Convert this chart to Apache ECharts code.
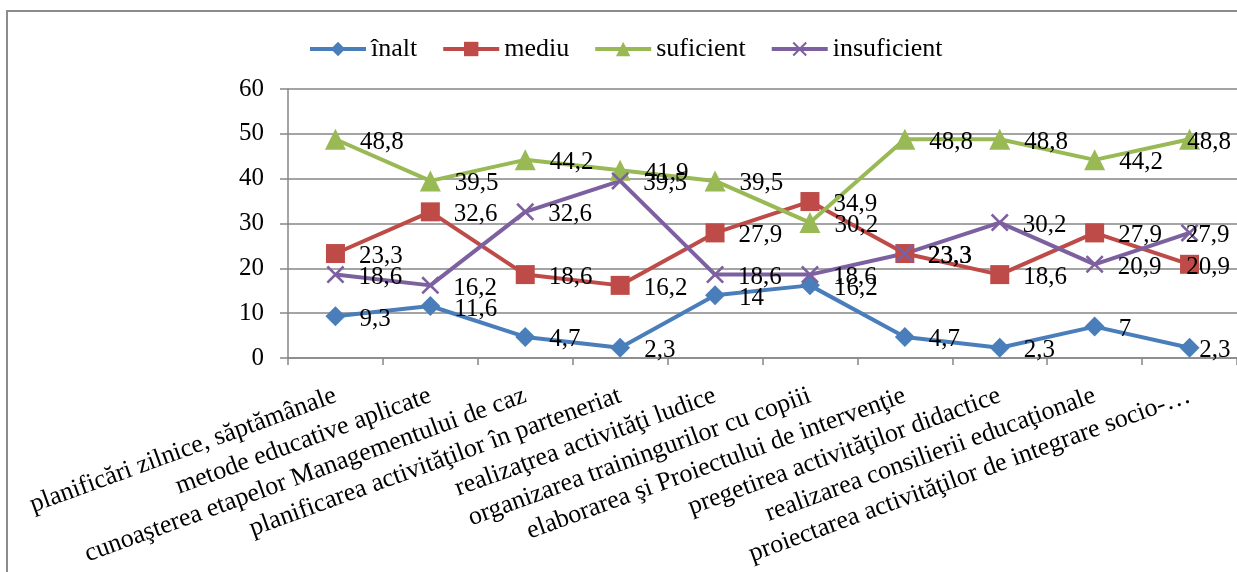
<!DOCTYPE html>
<html>
<head>
<meta charset="utf-8">
<style>
  html, body { margin: 0; padding: 0; background: #fff; }
  #chart { width: 1237px; height: 572px; }
</style>
<script src="https://cdn.jsdelivr.net/npm/echarts@6/dist/echarts.min.js"></script>
</head>
<body>
<div id="chart"></div>
<script>
// Categories of competences evaluated
const categories = [
  'planificări zilnice, săptămânale',
  'metode educative aplicate',
  'cunoaşterea etapelor Managementului de caz',
  'planificarea activităţilor în parteneriat',
  'realizaţrea activităţi ludice',
  'organizarea trainingurilor cu copiii',
  'elaborarea şi Proiectului de intervenţie',
  'pregetirea activităţilor didactice',
  'realizarea consilierii educaţionale',
  'proiectarea activităţilor de integrare socio-…'
];

// Percentages per level
const inalt       = [9.3, 11.6, 4.7, 2.3, 14, 16.2, 4.7, 2.3, 7, 2.3];
const mediu       = [23.3, 32.6, 18.6, 16.2, 27.9, 34.9, 23.3, 18.6, 27.9, 20.9];
const suficient   = [48.8, 39.5, 44.2, 41.9, 39.5, 30.2, 48.8, 48.8, 44.2, 48.8];
const insuficient = [18.6, 16.2, 32.6, 39.5, 18.6, 18.6, 23.3, 30.2, 20.9, 27.9];

const yTicks = [0, 10, 20, 30, 40, 50, 60];

const FONT = '"Liberation Serif", "Times New Roman", serif';
const crossPath = 'path://M0,1L1,0L5,4L9,0L10,1L6,5L10,9L9,10L5,6L1,10L0,9L4,5Z';

function makeSeries(name, values, color, symbol, size) {
  const last = values.length - 1;
  // the last point's label is kept inside the chart: right-aligned at the edge
  const data = values.map((v, i) => i === last
    ? { value: v, label: { align: 'right', offset: [17, 3] } }
    : v);
  return {
    name: name,
    type: 'line',
    data: data,
    symbol: symbol,
    symbolSize: size,
    lineStyle: { color: color, width: 4 },
    itemStyle: { color: color },
    z: 3,
    label: {
      show: true,
      position: 'right',
      distance: 14,
      offset: [0, 3],
      color: '#000',
      fontFamily: FONT,
      fontSize: 25,
      formatter: p => String(p.value).replace('.', ',')
    },
    emphasis: { disabled: true }
  };
}

const chart = echarts.init(document.getElementById('chart'), null, { renderer: 'canvas' });
chart.setOption({
  animation: false,
  backgroundColor: '#fff',
  graphic: [{
    type: 'rect',
    shape: { x: 7, y: 11, width: 1240, height: 570 },
    style: { fill: 'none', stroke: '#8c8c8c', lineWidth: 2 },
    silent: true
  }],
  legend: {
    top: 31,
    left: 303,
    itemWidth: 56,
    itemHeight: 18,
    itemGap: 24,
    textStyle: { fontFamily: FONT, fontSize: 26, color: '#000' },
    lineStyle: { width: 4 },
    data: ['înalt', 'mediu', 'suficient', 'insuficient']
  },
  grid: { left: 288, top: 89, width: 955, height: 269, containLabel: false },
  xAxis: {
    type: 'category',
    data: categories,
    boundaryGap: true,
    axisLine: { lineStyle: { color: '#868686', width: 1.5 } },
    axisTick: { show: true, length: 7, lineStyle: { color: '#868686', width: 1.5 } },
    axisLabel: {
      interval: 0,
      rotate: 20,
      margin: 37,
      color: '#000',
      fontFamily: FONT,
      fontSize: 26
    }
  },
  yAxis: {
    type: 'value',
    min: yTicks[0],
    max: yTicks[yTicks.length - 1],
    interval: 10,
    axisLine: { show: true, lineStyle: { color: '#868686', width: 1.5 } },
    axisTick: { show: true, length: 8, lineStyle: { color: '#868686', width: 1.5 } },
    splitLine: { lineStyle: { color: '#868686', width: 1.5 } },
    axisLabel: {
      margin: 24,
      color: '#000',
      fontFamily: FONT,
      fontSize: 25
    }
  },
  series: [
    makeSeries('înalt', inalt, '#4A7EBB', 'diamond', 20),
    makeSeries('mediu', mediu, '#BE4B48', 'rect', 19),
    makeSeries('suficient', suficient, '#98B954', 'triangle', 21),
    makeSeries('insuficient', insuficient, '#7D60A0', crossPath, 18)
  ]
});
</script>
</body>
</html>
